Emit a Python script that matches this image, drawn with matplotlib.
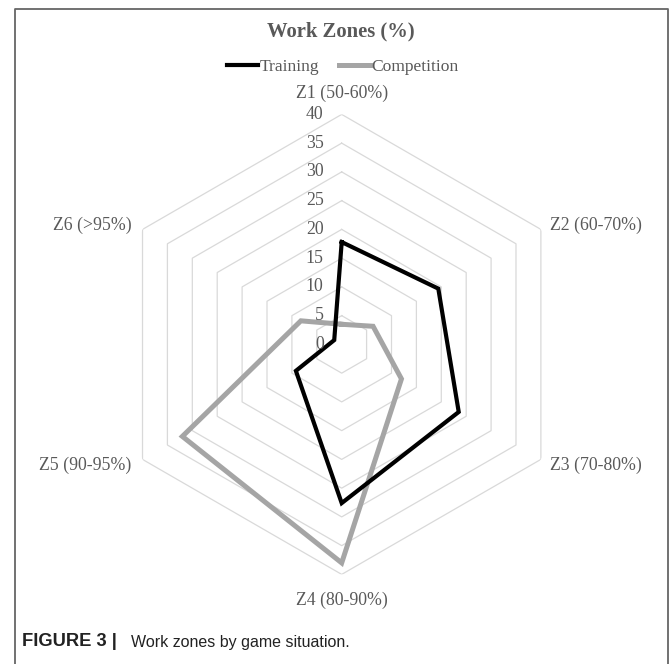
import numpy as np
import matplotlib.pyplot as plt
from matplotlib.lines import Line2D

# data
zones = ['Z1 (50-60%)', 'Z2 (60-70%)', 'Z3 (70-80%)', 'Z4 (80-90%)', 'Z5 (90-95%)', 'Z6 (>95%)']
training = [17.8, 19.4, 23.5, 27.6, 9.2, 1.5]
competition = [3.5, 6.3, 12.0, 38.0, 32.0, 8.2]
rings = [5, 10, 15, 20, 25, 30, 35, 40]
tick_labels = ['0', '5', '10', '15', '20', '25', '30', '35', '40']

serif = ['Liberation Serif', 'DejaVu Serif']
txt_col = '#595959'
W, H = 670, 664

fig = plt.figure(figsize=(W / 100, H / 100), dpi=100)

# polar axes, centred on the hexagon
cx, cy, R = 341.7 / W, 1 - 344.4 / H, 230.0
ax = fig.add_axes([cx - R / W, cy - R / H, 2 * R / W, 2 * R / H], projection='polar')
ax.set_theta_offset(np.pi / 2)
ax.set_theta_direction(-1)
ax.set_ylim(0, 40)
ax.set_xticks([])
ax.set_yticks([])
ax.grid(False)
ax.spines['polar'].set_visible(False)
ax.patch.set_alpha(0)

n = len(zones)
theta = np.arange(n) * 2 * np.pi / n
th_closed = np.append(theta, theta[0])

# hexagonal grid rings
for r in rings:
    ax.plot(th_closed, [r] * (n + 1), color='#d9d9d9', lw=0.9, zorder=1)

# series
ax.plot(th_closed, training + training[:1], color='black', lw=3.0,
        solid_joinstyle='miter', zorder=3, label='Training')
ax.plot(th_closed, competition + competition[:1], color='#a5a5a5', lw=3.6,
        solid_joinstyle='miter', zorder=2, label='Competition')

# radial tick labels along Z1 axis
for r, lab in zip([0] + rings, tick_labels):
    ax.annotate(lab, xy=(0, r), xytext=(-13, 0), textcoords='offset points',
                ha='right', va='center', fontsize=12.8, color=txt_col, family=serif)

# category labels
offsets = [(0, 15, 'center', 'center'), (6.6, 3.2, 'left', 'center'), (6.6, -4, 'left', 'center'),
           (0, -18.5, 'center', 'center'), (-7.8, -4, 'right', 'center'), (-7.8, 3.2, 'right', 'center')]
for t, lab, (dx, dy, ha, va) in zip(theta, zones, offsets):
    ax.annotate(lab, xy=(t, 40), xytext=(dx, dy), textcoords='offset points',
                ha=ha, va=va, fontsize=12.8, color=txt_col, family=serif)

# title and legend
fig.text(0.508, 1 - 31 / H, 'Work Zones (%)', ha='center', va='center',
         fontsize=14.9, fontweight='bold', color=txt_col, family=serif)
leg = fig.legend(loc='center', bbox_to_anchor=(0.512, 1 - 67 / H), ncol=2, frameon=False,
                 handlelength=1.77, handletextpad=0.1, columnspacing=1.08,
                 prop={'family': serif, 'size': 12.6})
for t in leg.get_texts():
    t.set_color(txt_col)

# caption
fig.text(22 / W, 1 - 642 / H, 'FIGURE 3 |', ha='left', va='center',
         fontsize=13.2, fontweight='bold', color='#222222', family='Liberation Sans')
fig.text(131 / W, 1 - 642 / H, 'Work zones by game situation.', ha='left', va='center',
         fontsize=11.5, color='#222222', family='Liberation Sans')

# frame: left, top and right edges (open at the bottom)
x0, x1, y0 = 14.5 / W, 667.5 / W, 1 - 8.5 / H
fig.add_artist(Line2D([x0, x0, x1, x1], [0, y0, y0, 0], transform=fig.transFigure,
                      color='#666666', lw=1.3))

fig.savefig('out.png', dpi=100)
